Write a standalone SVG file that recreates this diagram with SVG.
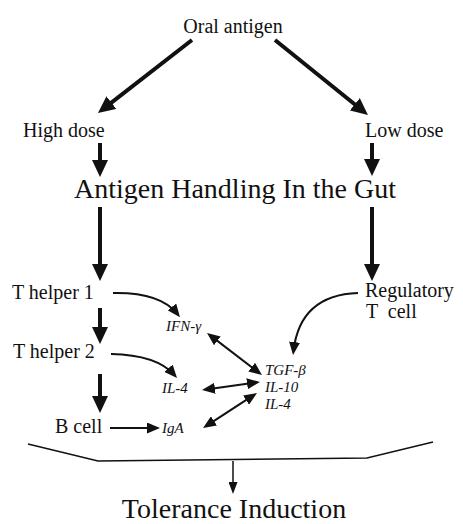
<svg xmlns="http://www.w3.org/2000/svg" width="463" height="524" viewBox="0 0 463 524">
<style>
text{font-family:'Liberation Serif','Times New Roman',Times,serif;fill:#111}
.lbl{font-size:20px}
.big{font-size:28px}
.it{font-size:15px;font-style:italic}
.thick{stroke:#111;stroke-width:4;fill:none}
.med{stroke:#111;stroke-width:2;fill:none}
.thin{stroke:#111;stroke-width:1.5;fill:none}
</style>
<defs>
<marker id="hb" markerUnits="userSpaceOnUse" markerWidth="17" markerHeight="16" refX="11" refY="8" orient="auto"><path d="M0,0 L17,8 L0,16 z" fill="#111"/></marker>
<marker id="hm" markerUnits="userSpaceOnUse" markerWidth="13" markerHeight="11" refX="9" refY="5.5" orient="auto-start-reverse"><path d="M0,0 L13,5.5 L0,11 z" fill="#111"/></marker>
<marker id="hs" markerUnits="userSpaceOnUse" markerWidth="12" markerHeight="9" refX="9" refY="4.5" orient="auto"><path d="M0,0 L12,4.5 L0,9 z" fill="#111"/></marker>
</defs>
<g id="connectors">
<line class="thick" x1="192" y1="40" x2="102.7" y2="109.3" marker-end="url(#hb)"/>
<line class="thick" x1="275" y1="40" x2="363.3" y2="111.2" marker-end="url(#hb)"/>
<line class="thick" x1="100" y1="143" x2="100" y2="171" marker-end="url(#hb)"/>
<line class="thick" x1="372" y1="143" x2="372" y2="170" marker-end="url(#hb)"/>
<line class="thick" x1="100" y1="207" x2="100" y2="275" marker-end="url(#hb)"/>
<line class="thick" x1="372" y1="207" x2="372" y2="275" marker-end="url(#hb)"/>
<line class="thick" x1="100" y1="308" x2="100" y2="338" marker-end="url(#hb)"/>
<line class="thick" x1="100" y1="374" x2="100" y2="407" marker-end="url(#hb)"/>
<path class="med" d="M113,293 Q160,292 177.5,314" marker-end="url(#hm)"/>
<path class="med" d="M111,354 Q157,355 174.4,375" marker-end="url(#hm)"/>
<path class="med" d="M358,293 Q300,295 293.5,351" marker-end="url(#hm)"/>
<line class="med" x1="210.2" y1="335.4" x2="258.8" y2="372.6" marker-start="url(#hm)" marker-end="url(#hm)"/>
<line class="med" x1="206" y1="389.5" x2="256" y2="382.5" marker-start="url(#hm)" marker-end="url(#hm)"/>
<line class="med" x1="206.4" y1="425.8" x2="253.6" y2="395.2" marker-start="url(#hm)" marker-end="url(#hm)"/>
<line class="med" x1="110" y1="428" x2="156" y2="428" marker-end="url(#hm)"/>
<polyline class="thin" points="28,444 98,461 367,458 433,442"/>
<line class="thin" x1="233" y1="461" x2="233" y2="491" marker-end="url(#hs)"/>
</g>
<g font-family="Liberation Serif, serif">
<g id="oral"><text class="lbl" x="233" y="33" text-anchor="middle">Oral antigen</text></g>
<g id="high"><text class="lbl" x="23" y="137">High dose</text></g>
<g id="low"><text class="lbl" x="365" y="137">Low dose</text></g>
<g id="handling"><text class="big" x="235" y="198" text-anchor="middle">Antigen Handling In the Gut</text></g>
<g id="th1"><text class="lbl" x="12" y="299">T helper 1</text></g>
<g id="treg"><text class="lbl" x="365" y="297">Regulatory</text><text class="lbl" x="366" y="318" style="word-spacing:5px">T cell</text></g>
<g id="ifn"><text class="it" x="166" y="331">IFN-γ</text></g>
<g id="th2"><text class="lbl" x="13" y="358">T helper 2</text></g>
<g id="il4a"><text class="it" x="162" y="393">IL-4</text></g>
<g id="cyto"><text class="it" x="265" y="375">TGF-β</text><text class="it" x="265" y="392">IL-10</text><text class="it" x="265" y="409">IL-4</text></g>
<g id="bcell"><text class="lbl" x="55" y="433">B cell</text></g>
<g id="iga"><text class="it" x="162" y="433">IgA</text></g>
<g id="tolerance"><text class="big" x="234" y="518" text-anchor="middle">Tolerance Induction</text></g>
</g>
</svg>
